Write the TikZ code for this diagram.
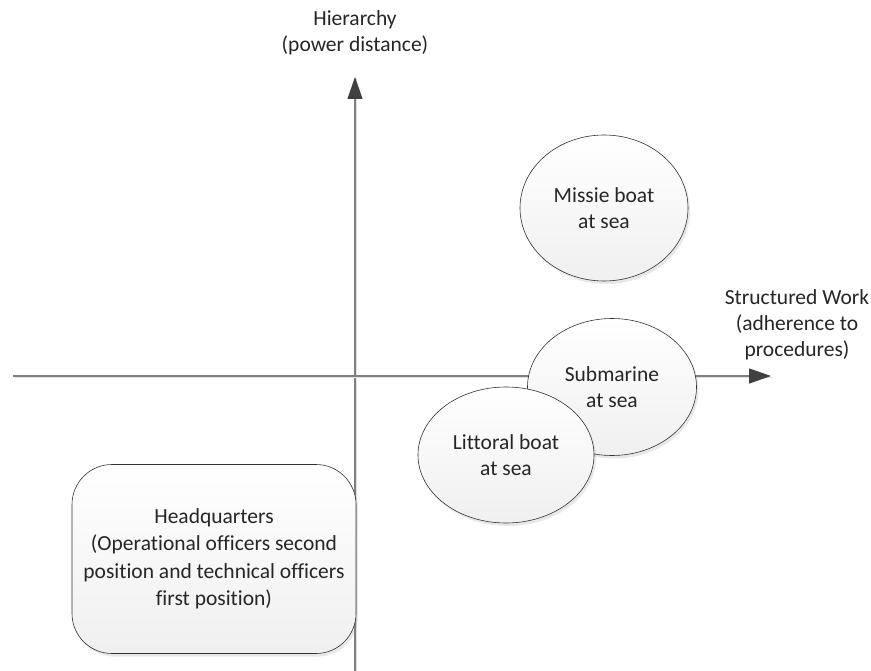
\documentclass[tikz,border=0pt]{standalone}
\usepackage{fontspec}
\setmainfont{Carlito}[Ligatures=NoCommon]
\usetikzlibrary{arrows.meta,shapes.geometric,shadows}
\begin{document}
\begin{tikzpicture}[x=1pt,y=-1pt,
  every node/.style={font=\fontsize{21.5}{26}\selectfont, text=black!85, align=center},
  axis/.style={draw=black!50, line width=1.2pt,
    -{Triangle[length=22pt,width=15pt,color=black!75,fill=black!75]},
    preaction={draw=black!12, line width=1.2pt, -, transform canvas={xshift=1.5pt,yshift=-1.5pt}}},
  bubble/.style={ellipse, draw=black!80, line width=0.6pt,
    top color=white, bottom color=black!6, inner sep=0pt,
    drop shadow={opacity=0.18, shadow xshift=2pt, shadow yshift=-3pt}},
  panel/.style={rounded corners=40pt, draw=black!80, line width=0.6pt,
    top color=white, bottom color=black!6, inner sep=0pt,
    drop shadow={opacity=0.18, shadow xshift=2pt, shadow yshift=-3pt}}
]
\useasboundingbox (0,0) rectangle (871,671);
\fill[white] (0,0) rectangle (871,671);

% axes
\coordinate (vbot) at (355,671);
\coordinate (vtop) at (355,77);
\coordinate (hleft) at (13,376);
\coordinate (hright) at (771,376);
\draw[axis] (vbot) -- (vtop);
\draw[axis] (hleft) -- (hright);

% axis labels
\node (ylab) at (355,33) {Hierarchy\\(power distance)};
\node (xlab) at (797,325) {Structured Work\\(adherence to\\procedures)};

% units
\node[bubble, minimum width=168pt, minimum height=146pt] (missile) at (604,208) {Missie boat\\at sea};
\node[bubble, minimum width=169pt, minimum height=137pt] (sub) at (612,387) {Submarine\\at sea};
\node[bubble, minimum width=176pt, minimum height=136pt] (littoral) at (506,455) {Littoral boat\\at sea};

% headquarters
\node[panel, minimum width=284pt, minimum height=189pt,
      font=\fontsize{21.5}{27.5}\selectfont] (hq) at (214,559)
  {Headquarters\\(Operational officers second\\position and technical officers\\first position)};
\end{tikzpicture}
\end{document}
